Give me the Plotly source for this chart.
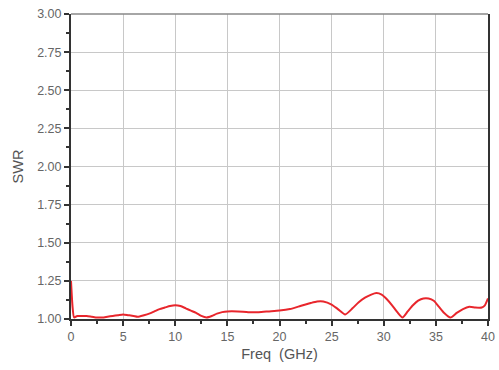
import plotly.graph_objects as go

freq = [0, 0.15, 0.3, 0.6, 1.0, 1.5, 2.0, 2.5, 3.0, 3.5, 4.0, 4.5, 5.0, 5.5, 6.0, 6.4, 7.0, 7.5, 8.0, 8.5, 9.0, 9.5, 10.0,
        10.5, 11.0, 11.5, 12.0, 12.5, 13.0, 13.5, 14.0, 14.5, 15.0, 16.0, 17.0, 18.0, 19.0, 20.0, 21.0, 22.0, 22.5, 23.0,
        23.6, 24.2, 25.0, 25.6, 26.3, 27.0, 27.6, 28.2, 28.8, 29.3, 29.8, 30.3, 30.8, 31.3, 31.8, 32.3, 32.8, 33.3, 33.8,
        34.3, 34.8, 35.3, 35.8, 36.4, 37.0, 37.6, 38.2, 38.8, 39.4, 39.7, 40.0]
swr = [1.25, 1.08, 1.01, 1.02, 1.02, 1.02, 1.015, 1.01, 1.01, 1.015, 1.02, 1.025, 1.03, 1.025, 1.02, 1.015, 1.025, 1.035,
       1.05, 1.065, 1.075, 1.085, 1.09, 1.085, 1.07, 1.055, 1.04, 1.02, 1.01, 1.02, 1.035, 1.045, 1.05, 1.05, 1.045, 1.045,
       1.05, 1.055, 1.065, 1.085, 1.095, 1.105, 1.115, 1.115, 1.095, 1.065, 1.03, 1.07, 1.11, 1.14, 1.16, 1.17, 1.16,
       1.13, 1.09, 1.045, 1.01, 1.05, 1.09, 1.12, 1.135, 1.135, 1.12, 1.08, 1.04, 1.01, 1.04, 1.065, 1.08, 1.075, 1.075,
       1.09, 1.135]

x_ticks = [0, 5, 10, 15, 20, 25, 30, 35, 40]
y_ticks = [1.00, 1.25, 1.50, 1.75, 2.00, 2.25, 2.50, 2.75, 3.00]
y_labels = ["1.00", "1.25", "1.50", "1.75", "2.00", "2.25", "2.50", "2.75", "3.00"]

fig = go.Figure()
fig.add_trace(go.Scatter(x=freq, y=swr, mode="lines", line=dict(color="#e8262c", width=2, shape="spline", smoothing=0.6),
                         showlegend=False, cliponaxis=False))

font_tick = dict(family="Liberation Sans, Arial, sans-serif", size=12.5, color="#666666")
fig.update_layout(
    width=499, height=370,
    margin=dict(l=71, r=11, t=14, b=51),
    paper_bgcolor="white", plot_bgcolor="white",
    font=dict(family="Liberation Sans, Arial, sans-serif", color="#444444"),
    xaxis=dict(range=[0, 40], tickvals=x_ticks, ticktext=[str(v) for v in x_ticks], tickfont=font_tick,
               automargin=False,
               showgrid=True, gridcolor="#c8c8c8", gridwidth=1, zeroline=False,
               showline=True, linecolor="#333333", linewidth=2,
               ticks="outside", ticklen=5, tickwidth=1.5, tickcolor="#333333",
               minor=dict(tickvals=[2.5, 7.5, 12.5, 17.5, 22.5, 27.5, 32.5, 37.5], ticks="outside", ticklen=3,
                          tickwidth=1.5, tickcolor="#333333", showgrid=False),
               title=dict(text="Freq  (GHz)", font=dict(size=14.5, color="#555555"), standoff=6)),
    yaxis=dict(range=[1.0, 3.0], tickvals=y_ticks, ticktext=y_labels, tickfont=font_tick,
               automargin=False,
               showgrid=True, gridcolor="#c8c8c8", gridwidth=1, zeroline=False,
               showline=True, linecolor="#333333", linewidth=2, mirror=True,
               ticks="outside", ticklen=5, tickwidth=1.5, tickcolor="#333333",
               minor=dict(tickvals=[1.125, 1.375, 1.625, 1.875, 2.125, 2.375, 2.625, 2.875], ticks="outside",
                          ticklen=3, tickwidth=1.5, tickcolor="#333333", showgrid=False),
               title=dict(text="SWR", font=dict(size=14.5, color="#555555"), standoff=10)),
    shapes=[dict(type="line", xref="paper", yref="paper", x0=0, x1=1, y0=1, y1=1,
                 line=dict(color="#888888", width=1.5))],
)

fig.write_html("out.html", config={"displayModeBar": False},
               post_script="document.body.style.margin='0';document.body.style.overflow='hidden';")
